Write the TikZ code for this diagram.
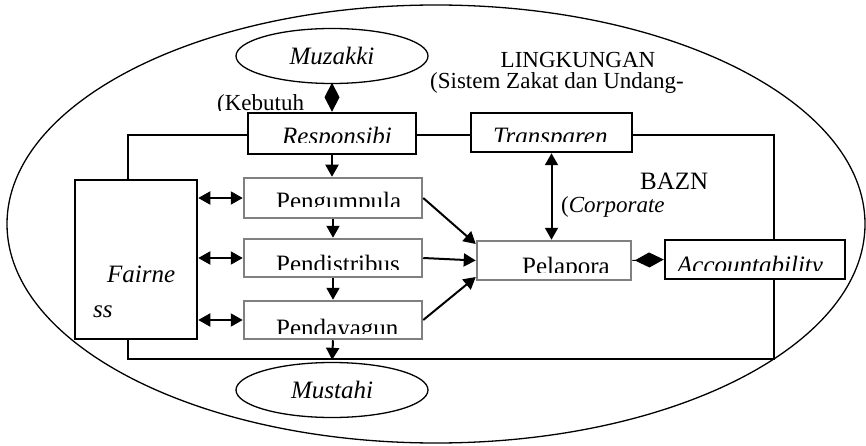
\documentclass[tikz,border=0pt]{standalone}
\usepackage{fontspec}
\setmainfont{Liberation Serif}
\usepackage{tikz}
\usetikzlibrary{arrows.meta,positioning,shapes.geometric,calc}
\definecolor{boxgray}{RGB}{128,128,128}
\newcommand{\bigtxt}{\fontsize{25pt}{30pt}\selectfont}
\newcommand{\smalltxt}{\fontsize{23pt}{28pt}\selectfont}
% text cut off at the bottom of a box: node, clip y, x, baseline, text
\newcommand{\cuttext}[5]{%
  \begin{scope}
    \clip (#1.north west) rectangle (#1.east |- 0,#2);
    \node[anchor=base west,inner sep=0pt] (#1txt) at (#3,#4) {#5};
  \end{scope}}
\tikzset{
  blkbox/.style={draw=black,line width=2.5pt,fill=white,inner sep=0pt},
  grybox/.style={draw=boxgray,line width=2.5pt,fill=white,inner sep=0pt},
  oval/.style={draw,ellipse,line width=1.3pt,fill=white,inner sep=0pt,
    minimum width=192pt,minimum height=55pt},
  conn/.style={line width=2pt,->},
  both/.style={line width=2pt,<->},
  dmd/.style={line width=1pt,-{Diamond[length=29pt,width=15pt]}}
}

\begin{document}
\begin{tikzpicture}[x=1pt,y=-1pt,font=\bigtxt,>={Triangle[length=12pt,width=13pt]}]
  \useasboundingbox (0,0) rectangle (866,446);
  % environment and BAZN frame
  \draw[line width=1.3pt] (436,224) ellipse [x radius=429, y radius=219];
  \draw[line width=2pt] (128,135) rectangle (774,359);
  % labels
  \node[anchor=base,inner sep=0pt,font=\smalltxt] (lingk) at (578,68) {LINGKUNGAN};
  \node[anchor=base west,inner sep=0pt,font=\smalltxt] (sist) at (430,89) {(Sistem Zakat dan Undang-};
  \node[anchor=base west,inner sep=0pt] (bazn) at (640,190) {BAZN};
  \node[anchor=base west,inner sep=0pt,font=\smalltxt] (corp) at (561,212) {(\textit{Corporate}};
  \begin{scope}
    \clip (200,80) rectangle (330,110.5);
    \node[anchor=base west,inner sep=0pt,font=\smalltxt] (kebt) at (217,110.5) {(Kebutuh};
  \end{scope}
  % stakeholders
  \node[oval] (muz) at (332,56) {\textit{Muzakki}};
  \node[oval] (mus) at (332,390) {\textit{Mustahi}};
  % principles
  \node[blkbox,minimum width=168pt,minimum height=41pt] (resp) at (332,133.5) {};
  \node[blkbox,minimum width=161pt,minimum height=39pt] (trans) at (551.5,132.5) {};
  \node[blkbox,minimum width=180pt,minimum height=39pt] (acct) at (755,259.5) {};
  \node[blkbox,minimum width=122pt,minimum height=159pt] (fair) at (136,259.5) {};
  % activities
  \node[grybox,minimum width=178pt,minimum height=40pt] (peng) at (333,198) {};
  \node[grybox,minimum width=178pt,minimum height=38pt] (pdis) at (333,258) {};
  \node[grybox,minimum width=178pt,minimum height=38pt] (pday) at (333,320) {};
  \node[grybox,minimum width=154pt,minimum height=39pt] (pela) at (554,260.5) {};
  % box texts
  \cuttext{resp}{143}{282}{145}{\textit{Responsibi}}
  \cuttext{trans}{142}{493}{144.5}{\textit{Transparen}}
  \cuttext{acct}{270}{677}{273.5}{\textit{Accountability}}
  \cuttext{peng}{207}{276}{210}{Pengumpula}
  \cuttext{pdis}{269}{276}{272}{Pendistribus}
  \cuttext{pday}{333}{276}{336}{Pendayagun}
  \cuttext{pela}{272}{522}{274.5}{Pelapora}
  \node[anchor=base west,inner sep=0pt] (fairt) at (107,282) {\textit{Fairne}};
  \node[anchor=base west,inner sep=0pt] (fairs) at (93,317) {\textit{ss}};
  % connectors
  \draw[dmd] (muz.south) -- (resp.north);
  \draw[dmd] (pela.east) -- (acct.west);
  \draw[conn] (resp.south) -- (resp.south |- peng.north);
  \draw[conn] (peng.south) -- (pdis.north);
  \draw[conn] (pdis.south) -- (pday.north);
  \draw[conn,shorten >=2pt] (pday.south) -- (mus.north);
  \draw[both] (fair.east |- peng.west) -- (peng.west);
  \draw[both] (fair.east |- pdis.west) -- (pdis.west);
  \draw[both] (fair.east |- pday.west) -- (pday.west);
  \draw[conn] (peng.east) -- ([yshift=16.5pt]pela.west);
  \draw[conn] (pdis.east) -- (pela.west);
  \draw[conn] (pday.east) -- ([yshift=-16.5pt]pela.west);
  \draw[both] (trans.south) -- (trans.south |- pela.north);
\end{tikzpicture}
\end{document}
